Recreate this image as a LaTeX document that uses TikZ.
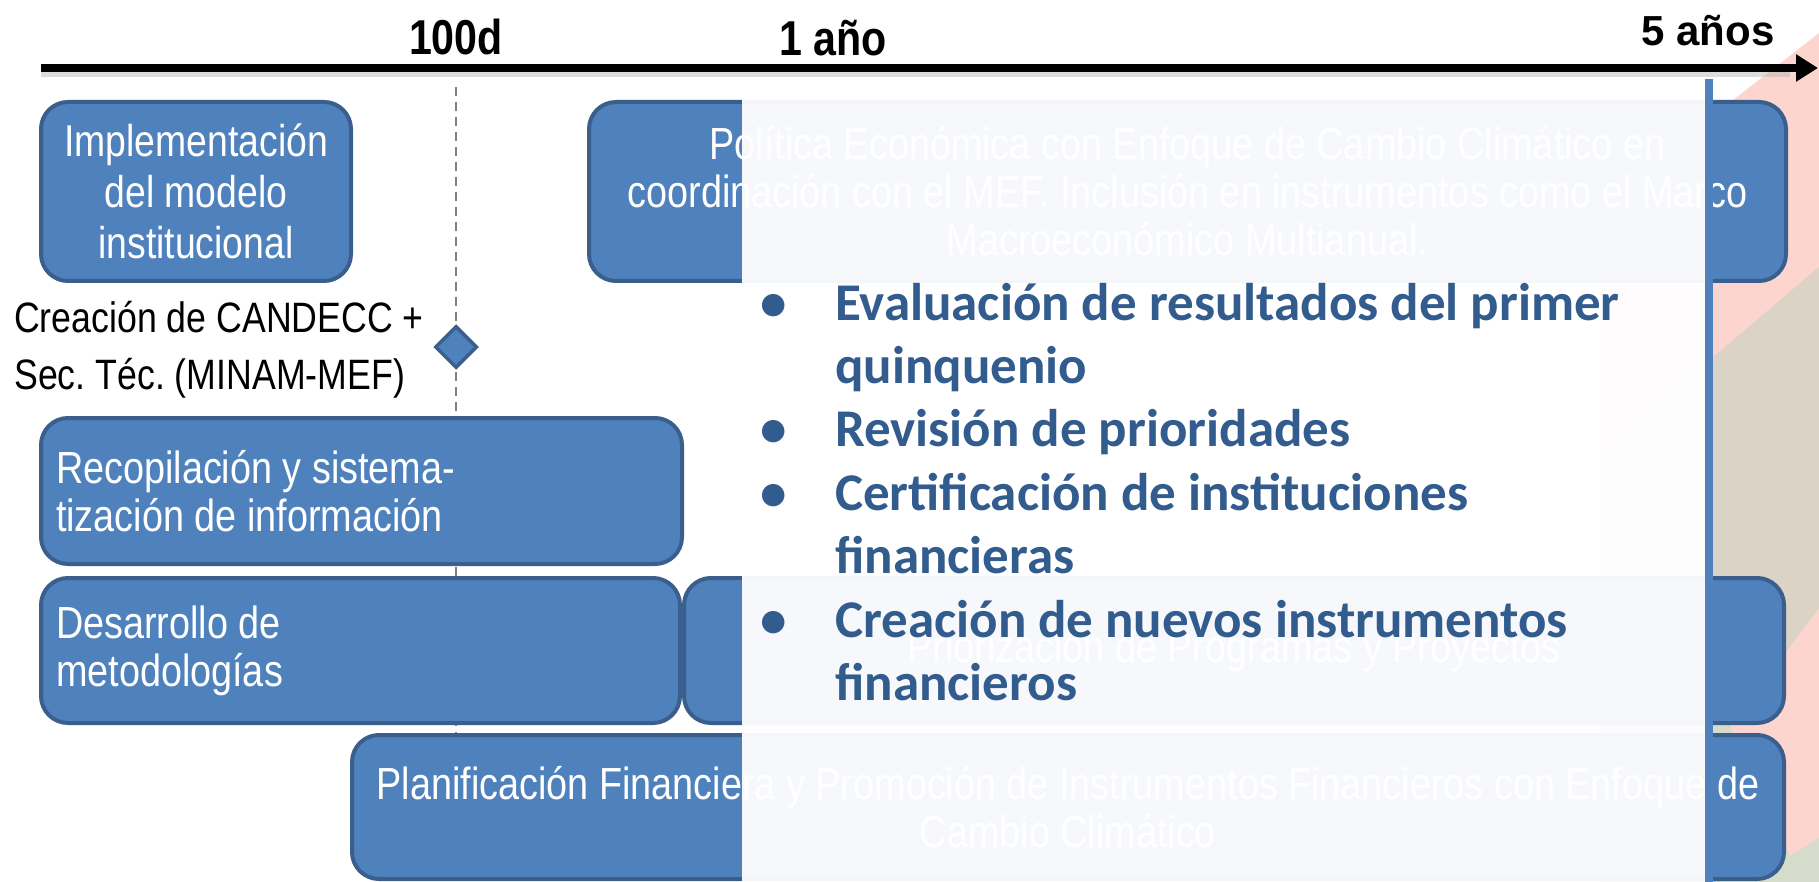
\documentclass[tikz,border=0pt]{standalone}
\usepackage{fontspec}
\setmainfont{Liberation Sans}
\newfontfamily\narrowfont[FakeStretch=0.84]{Liberation Sans}
\newfontfamily\calfont{Carlito}
\usetikzlibrary{arrows.meta,shapes.geometric}
\definecolor{boxfill}{HTML}{4F81BD}
\definecolor{boxline}{HTML}{3A5F8C}
\definecolor{bultxt}{HTML}{325C8E}
\definecolor{bgpink}{HTML}{FDD5CF}
\definecolor{bgtan}{HTML}{DAD3C6}
\definecolor{bggreen}{HTML}{D6DCCB}
\frenchspacing
\newcommand{\natspace}{\spaceskip=0pt\xspaceskip=0pt\relax}
\begin{document}
\begin{tikzpicture}[x=1pt,y=-1pt,
  gbox/.style={draw=boxline, line width=4pt, fill=boxfill, rounded corners=27pt,
    text=white, font=\narrowfont\fontsize{45}{48}\selectfont, inner sep=0pt},
  axlabel/.style={font=\narrowfont\bfseries\fontsize{49}{49}\selectfont, inner sep=0pt},
  bultext/.style={anchor=base west, inner sep=0pt, text=bultxt, font=\calfont\bfseries\fontsize{53}{60}\selectfont},
  bulmark/.style={anchor=base, inner sep=0pt, text=bultxt, font=\calfont\bfseries\fontsize{53}{60}\selectfont}]
\useasboundingbox (0,0) rectangle (1819,882);
\fill[white] (0,0) rectangle (1819,882);
% background decoration at the right
\fill[bgpink] (1600,204) -- (1819,33) -- (1819,882) -- (1600,882) -- cycle;
\fill[bgtan] (1600,453) -- (1819,267) -- (1819,608) -- (1600,901) -- cycle;
\fill[bggreen] (1600,882) -- (1600,820) -- (1712,722) -- (1730,728) -- (1790,856) -- (1819,838) -- (1819,882) -- cycle;
% time axis
\coordinate (axs) at (41,68);
\coordinate (axe) at (1818,68);
\coordinate (shs) at (41,75);
\coordinate (she) at (1790,75);
\draw[line width=5pt, black!30, opacity=0.45] (shs) -- (she);
\draw[line width=8pt, -{Triangle[length=22pt,width=26pt]}] (axs) -- (axe);
\node[axlabel] (l100) at (456,37) {100d};
\node[axlabel] (l1a) at (833,38) {1 año};
\node[font=\bfseries\fontsize{42}{42}\selectfont, inner sep=0pt] (l5a) at (1708,31) {5 años};
% 100 days guide
\coordinate (dtop) at (456,87);
\coordinate (dbot) at (456,735);
\draw[black!50, line width=2pt, dash pattern=on 9pt off 6pt] (dtop) -- (dbot);
% boxes
\node[gbox, minimum width=310pt, minimum height=179pt, align=center,
  font=\narrowfont\fontsize{44.5}{51}\selectfont] (impl) at (196,191.5)
  {Implementación\\del modelo\\institucional};
\node[gbox, minimum width=1197pt, minimum height=179pt, align=center] (pol) at (1187.5,191.5)
  {Política Económica con Enfoque de Cambio Climático en\\coordinación con el MEF. Inclusión en instrumentos como el Marco\\Macroeconómico Multianual.};
\node[diamond, draw=boxline, fill=boxfill, line width=3.5pt, minimum width=42pt,
  minimum height=42pt, inner sep=0pt] (hito) at (456,347) {};
\node[anchor=west, align=left, inner sep=0pt,
  font=\narrowfont\fontsize{42.5}{57}\selectfont] (cand) at (14,350)
  {Creación de CANDECC +\\Sec. Téc. (MINAM-MEF)};
\node[gbox, minimum width=641pt, minimum height=146pt, text width=611pt, align=left] (recop) at (361.5,491)
  {\natspace Recopilación y sistema-\\tización de información};
\node[gbox, minimum width=639pt, minimum height=145pt, text width=609pt, align=left] (desa) at (360.5,650.5)
  {\natspace Desarrollo de\\metodologías};
\node[gbox, minimum width=1100pt, minimum height=145pt, align=center] (prio) at (1234,650.5)
  {Priorización de Programas y Proyectos};
\node[gbox, minimum width=1432pt, minimum height=144pt, align=center] (plan) at (1068,807)
  {Planificación Financiera y Promoción de Instrumentos Financieros con Enfoque de\\Cambio Climático};
% translucent overlay
\fill[white, opacity=0.95] (742,79) rectangle (1705,882);
\coordinate (vtop) at (1709,79);
\coordinate (vbot) at (1709,882);
\draw[boxfill, line width=8pt] (vtop) -- (vbot);
% bullet list
\node[bulmark] (b1) at (774,320) {•};
\node[bultext] (t1) at (835,320) {Evaluación de resultados del primer};
\node[bultext] (t2) at (835,383.4) {quinquenio};
\node[bulmark] (b3) at (774,446.8) {•};
\node[bultext] (t3) at (835,446.8) {Revisión de prioridades};
\node[bulmark] (b4) at (774,510.2) {•};
\node[bultext] (t4) at (835,510.2) {Certificación de instituciones};
\node[bultext] (t5) at (835,573.6) {financieras};
\node[bulmark] (b6) at (774,637) {•};
\node[bultext] (t6) at (835,637) {Creación de nuevos instrumentos};
\node[bultext] (t7) at (835,700.4) {financieros};
\end{tikzpicture}
\end{document}
